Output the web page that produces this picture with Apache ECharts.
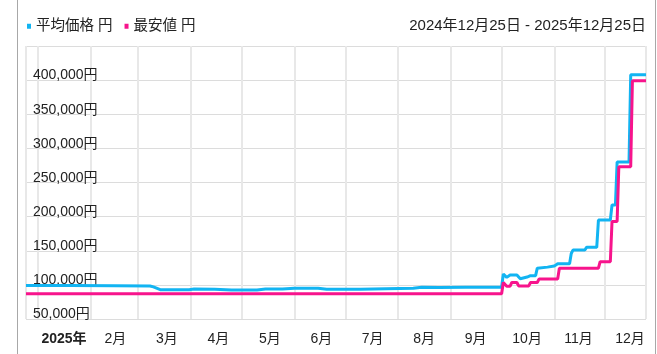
<!DOCTYPE html>
<html><head><meta charset="utf-8">
<script src="https://cdn.jsdelivr.net/npm/echarts@6/dist/echarts.min.js"></script>
<style>
html,body{margin:0;padding:0;background:#fff;}
#frame{position:absolute;left:17px;top:0;width:637px;height:354px;border-left:1px solid #a8a8a8;border-right:1px solid #a8a8a8;box-sizing:content-box;}
#chart{position:absolute;left:0;top:0;width:657px;height:354px;}
</style></head><body>
<div id="frame"></div><div id="chart"></div>
<script>
const monthLabels = ['2025年','2月','3月','4月','5月','6月','7月','8月','9月','10月','11月','12月'];
const legendNames = ['平均価格 円','最安値 円'];
const rangeText = '2024年12月25日 - 2025年12月25日';

const avgDates = ['2024-12-25','2025-01-20','2025-02-15','2025-03-08','2025-03-10','2025-03-14','2025-03-31','2025-04-03','2025-04-15','2025-04-25','2025-05-10','2025-05-15','2025-05-25','2025-06-01','2025-06-15','2025-06-20','2025-07-10','2025-07-25','2025-08-10','2025-08-15','2025-08-25','2025-09-10','2025-10-01','2025-10-02','2025-10-04','2025-10-06','2025-10-10','2025-10-12','2025-10-16','2025-10-18','2025-10-21','2025-10-22','2025-10-28','2025-11-01','2025-11-03','2025-11-10','2025-11-11','2025-11-12','2025-11-19','2025-11-20','2025-11-26','2025-11-27','2025-12-04','2025-12-05','2025-12-07','2025-12-08','2025-12-15','2025-12-16','2025-12-25'];
const avgValues = [99000,99000,98700,98300,97000,93000,93000,94000,93500,92500,92500,94000,94000,95000,95000,93500,93500,94500,95000,96500,96000,96500,96500,116000,111000,114500,114500,109000,111500,113500,113500,124500,126000,127500,131000,131000,146000,151000,151000,155000,155000,195000,195000,217000,217000,280000,280000,408000,408000];

const minDates = ['2024-12-25','2025-10-01','2025-10-02','2025-10-03','2025-10-04','2025-10-06','2025-10-07','2025-10-10','2025-10-11','2025-10-17','2025-10-18','2025-10-22','2025-10-23','2025-11-03','2025-11-04','2025-11-27','2025-11-28','2025-12-04','2025-12-05','2025-12-08','2025-12-09','2025-12-16','2025-12-17','2025-12-25'];
const minValues = [87000,87000,103500,103500,98000,98000,103500,103500,98500,98500,103500,103500,108500,108500,124500,124500,134000,134000,193000,193000,273000,273000,399000,399000];

const yMin = 50000, yMax = 450000, yStep = 50000;
const xStart = '2024-12-25', xEnd = '2025-12-25';

const FONT = '"Liberation Sans", Arial, "Noto Sans CJK JP", sans-serif';
const fmtYen = v => String(v).replace(/\B(?=(\d{3})+(?!\d))/g, ',') + '円';

const chart = echarts.init(document.getElementById('chart'), null, {renderer:'canvas'});
chart.setOption({
  animation: false,
  textStyle: {fontFamily: FONT},
  title: {text: rangeText, right: 11, top: 18, padding: 0,
    textStyle: {fontSize: 15, fontWeight: 'normal', color: '#222', fontFamily: FONT}},
  legend: {data: legendNames, left: 27, top: 19, padding: 0, icon: 'rect', itemWidth: 4, itemHeight: 5, itemGap: 12,
    textStyle: {fontSize: 14.5, color: '#222', fontFamily: FONT}},
  grid: [
    {left: 26, right: 11, top: 46, bottom: 35},
    {left: 64, right: 27, top: 46, bottom: 35}
  ],
  xAxis: [
    {type: 'time', gridIndex: 0, min: xStart, max: xEnd,
     minInterval: 28*86400000, maxInterval: 31*86400000,
     axisLine: {show: false}, axisTick: {show: false}, axisLabel: {show: false},
     splitLine: {show: true, lineStyle: {color: '#e8e8e8', width: 2}}},
    {type: 'category', gridIndex: 1, data: monthLabels, boundaryGap: false,
     axisLine: {show: false}, axisTick: {show: false}, splitLine: {show: false},
     axisLabel: {margin: 13, fontSize: 14, color: '#222', fontFamily: FONT, interval: 0,
       formatter: (v, i) => i === 0 ? '{b|' + v + '}' : v,
       rich: {b: {fontWeight: 'bold', fontSize: 14, color: '#222', fontFamily: FONT}}}}
  ],
  yAxis: [
    {type: 'value', gridIndex: 0, min: yMin, max: yMax, interval: yStep,
     axisLine: {show: false}, axisTick: {show: false},
     axisLabel: {inside: true, margin: 7, verticalAlign: 'bottom', lineHeight: 9, fontSize: 14, color: '#222', fontFamily: FONT,
       showMaxLabel: false, formatter: fmtYen},
     splitLine: {show: true, lineStyle: {color: '#dcdcdc', width: 1}}},
    {type: 'value', gridIndex: 1, show: false, min: 0, max: 1}
  ],
  series: [
    {name: legendNames[0], type: 'line', xAxisIndex: 0, yAxisIndex: 0, showSymbol: false,
     lineStyle: {width: 3, color: '#12b4f2'}, itemStyle: {color: '#12b4f2'},
     data: avgDates.map((d, i) => [d, avgValues[i]])},
    {name: legendNames[1], type: 'line', xAxisIndex: 0, yAxisIndex: 0, showSymbol: false,
     lineStyle: {width: 3, color: '#f7148c'}, itemStyle: {color: '#f7148c'},
     data: minDates.map((d, i) => [d, minValues[i]])}
  ]
});
</script>
</body></html>
